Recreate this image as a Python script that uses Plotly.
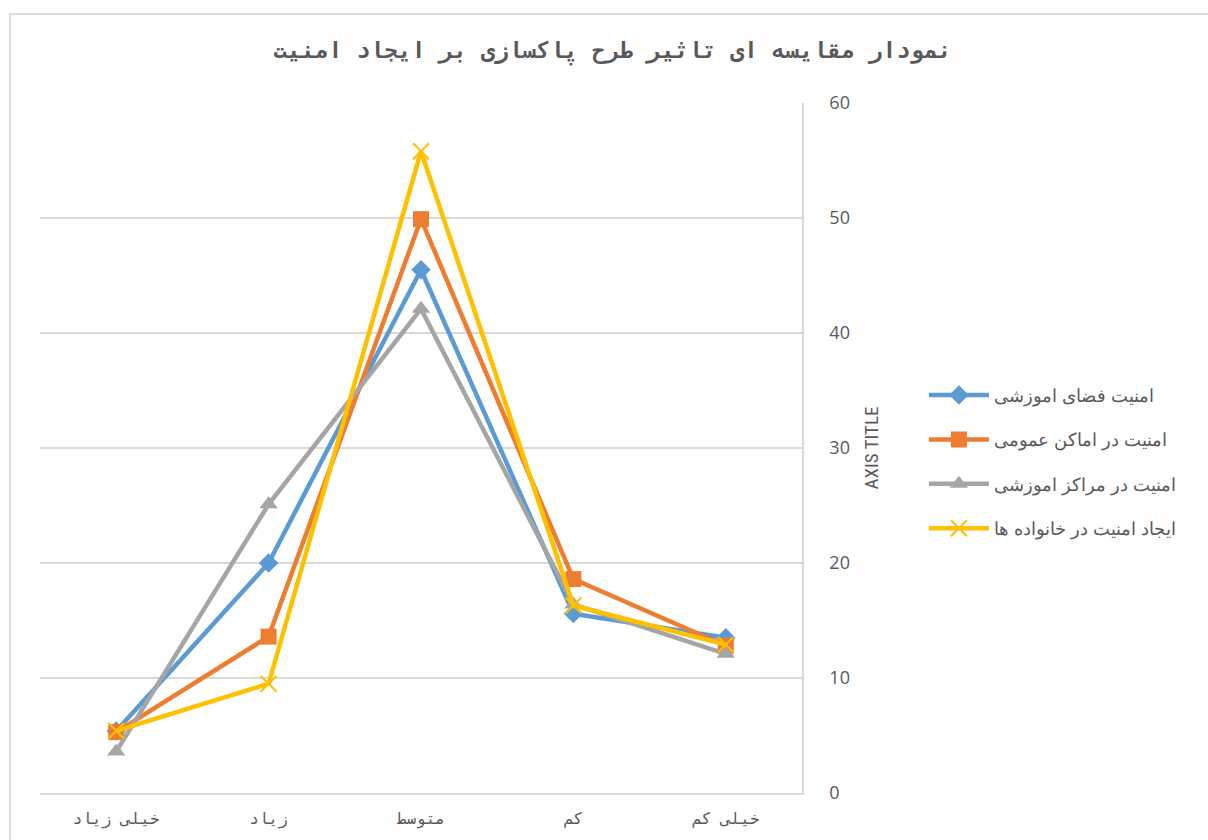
import plotly.graph_objects as go

categories = ["خیلی زیاد", "زیاد", "متوسط", "کم", "خیلی کم"]

series_names = [
    "امنیت فضای اموزشی",
    "امنیت در اماکن عمومی",
    "امنیت در مراکز اموزشی",
    "ایجاد امنیت در خانواده ها",
]
blue_vals = [5.4, 20.0, 45.5, 15.6, 13.5]
orange_vals = [5.3, 13.6, 49.9, 18.6, 12.8]
gray_vals = [3.6, 25.1, 42.1, 16.4, 12.1]
yellow_vals = [5.4, 9.5, 55.8, 16.3, 12.9]

colors = ["#5B9BD5", "#ED7D31", "#A5A5A5", "#FFC000"]
symbols = ["diamond", "square", "triangle-up", "x-thin-open"]
sizes = [15, 16, 16, 16]
all_vals = [blue_vals, orange_vals, gray_vals, yellow_vals]

fig = go.Figure()
for i, (name, vals) in enumerate(zip(series_names, all_vals)):
    marker = dict(symbol=symbols[i], size=sizes[i], color=colors[i])
    if symbols[i] == "x-thin-open":
        marker["line"] = dict(color=colors[i], width=2)
    fig.add_trace(go.Scatter(
        x=categories, y=vals, name=name, mode="lines+markers",
        line=dict(color=colors[i], width=4.5),
        marker=marker, legendgroup=f"g{i}",
    ))

fig.update_layout(
    width=1208, height=840,
    margin=dict(l=40, r=406, t=103, b=47),
    paper_bgcolor="white", plot_bgcolor="white",
    title=dict(
        text="<b>نمودار مقایسه ای تاثیر طرح پاکسازی بر ایجاد امنیت</b>",
        x=0.507, xanchor="center", xref="container", y=0.94, yanchor="middle",
        font=dict(family="DejaVu Sans Mono", size=23, color="#595959", weight="bold"),
    ),
    xaxis=dict(
        type="category", range=[-0.5, 4.5], showgrid=False, showline=True,
        linecolor="#D9D9D9", linewidth=1.5, ticks="", ticklabelstandoff=10,
        tickfont=dict(family="DejaVu Sans Mono", size=16, color="#595959"),
        zeroline=False,
    ),
    yaxis=dict(
        side="right", range=[0, 60], dtick=10, showgrid=True, gridcolor="#D9D9D9",
        gridwidth=1.5, showline=True, linecolor="#D9D9D9", linewidth=1.5,
        tickfont=dict(family="Open Sans", size=18, color="#595959"),
        ticklabelstandoff=22, zeroline=False,
        title=dict(text="AXIS TITLE", font=dict(family="Liberation Sans Narrow, Roboto Condensed, Liberation Sans", size=19, color="#595959"), standoff=16),
    ),
    legend=dict(
        x=1.16, xanchor="left", y=0.48, yanchor="middle",
        font=dict(family="Liberation Sans", size=18, color="#595959"),
        tracegroupgap=18, traceorder="grouped", itemwidth=60,
        bgcolor="rgba(0,0,0,0)",
    ),
    shapes=[dict(
        type="rect", xref="paper", yref="paper",
        x0=-0.0394, x1=1.55, y0=-0.09, y1=1.129,
        line=dict(color="#D9D9D9", width=2), fillcolor="rgba(0,0,0,0)", layer="below",
    )],
)

fig.write_html("out.html", config={"displayModeBar": False},
               post_script="document.body.style.margin='0';")
